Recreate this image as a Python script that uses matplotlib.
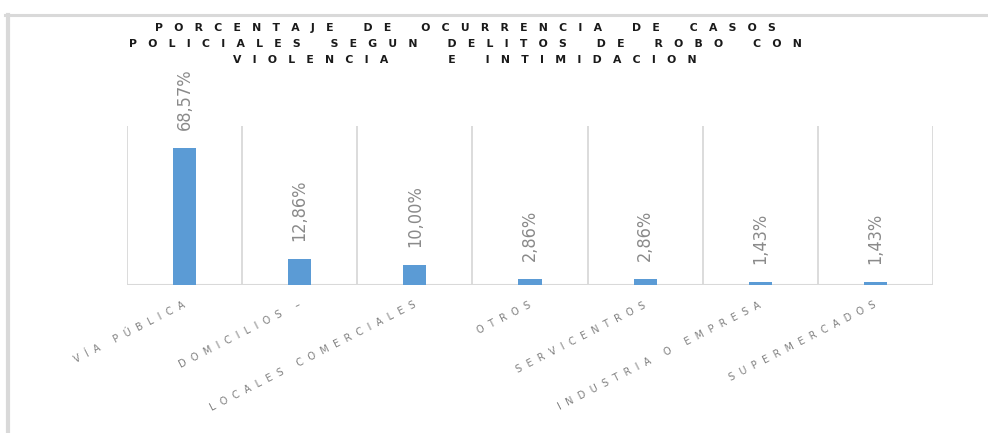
import matplotlib
matplotlib.use("Agg")
import matplotlib.pyplot as plt
from matplotlib.lines import Line2D

categories = ["VÍA PÚBLICA", "DOMICILIOS –", "LOCALES COMERCIALES", "OTROS",
              "SERVICENTROS", "INDUSTRIA O EMPRESA", "SUPERMERCADOS"]
values = [68.57, 12.86, 10.00, 2.86, 2.86, 1.43, 1.43]
value_labels = ["68,57%", "12,86%", "10,00%", "2,86%", "2,86%", "1,43%", "1,43%"]
title_lines = ["PORCENTAJE DE OCURRENCIA DE CASOS",
               "POLICIALES SEGUN DELITOS DE ROBO CON",
               "VIOLENCIA  E INTIMIDACION"]


def spaced(text, gap=" ", word_gap="   "):
    words = text.split(" ")
    return word_gap.join(gap.join(w) for w in words)


BAR = "#5b9bd5"
GRID = "#d9d9d9"
LABEL = "#808080"

fig = plt.figure(figsize=(9.88, 4.33), dpi=100)
W, H = 988, 433
ax = fig.add_axes([127 / W, (H - 285) / H, (933 - 127) / W, (285 - 126) / H])

x = list(range(len(categories)))
ax.bar(x, values, width=0.2, color=BAR, zorder=3)
ax.set_xlim(-0.5, len(categories) - 0.5)
ax.set_ylim(0, 79.5)

for b in [i - 0.5 for i in range(len(categories) + 1)]:
    ax.axvline(b, color=GRID, lw=1.3, zorder=1)
ax.axhline(0, color=GRID, lw=1.5, zorder=2)
for s in ax.spines.values():
    s.set_visible(False)
ax.set_yticks([])
ax.set_xticks(x)
ax.set_xticklabels([spaced(c, "  ", "     ") for c in categories], rotation=27,
                   ha="right", va="center", rotation_mode="anchor",
                   fontsize=7, color=LABEL)
ax.tick_params(axis="x", length=0, pad=14)

for xi, v, lab in zip(x, values, value_labels):
    ax.annotate(lab, (xi, v), xytext=(0, 13), textcoords="offset points",
                rotation=90, ha="center", va="bottom", fontsize=13,
                fontstretch="condensed", fontweight="light",
                color="#8a8a8a")

for k, line in enumerate(title_lines):
    fig.text(465 / W, 1 - (28 + 16 * k) / H, spaced(line, "   ", "        "),
             ha="center", va="center", fontsize=7.8, fontweight="bold",
             color="#1a1a1a")

# light frame along the top and left edges
fig.add_artist(Line2D([5 / W, 1], [1 - 15 / H, 1 - 15 / H], color=GRID, lw=2.2))
fig.add_artist(Line2D([8 / W, 8 / W], [0, 1 - 15 / H], color=GRID, lw=3))

fig.savefig("out.png", dpi=100)
